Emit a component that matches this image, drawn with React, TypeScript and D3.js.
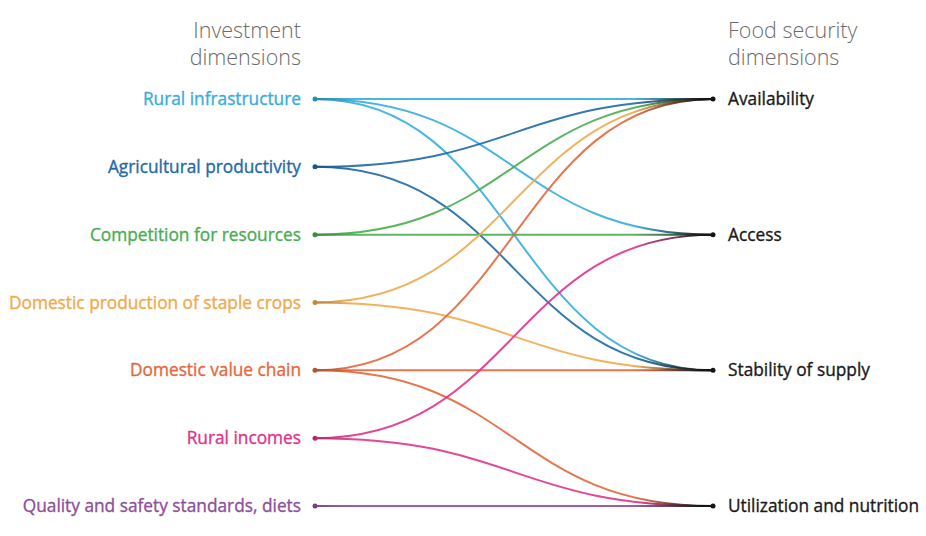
import React, { useRef, useEffect } from 'react';
import * as d3 from 'd3';

// investment dimensions (left side)
const sources = [
  'Rural infrastructure',
  'Agricultural productivity',
  'Competition for resources',
  'Domestic production of staple crops',
  'Domestic value chain',
  'Rural incomes',
  'Quality and safety standards, diets',
];
const sourceColors = ['#36aedd', '#1f6aa6', '#4aad52', '#f0aa4c', '#e4673c', '#e0338a', '#8e4f9b'];

// food security dimensions (right side)
const targets = ['Availability', 'Access', 'Stability of supply', 'Utilization and nutrition'];

// [source index, target index]
const links: [number, number][] = [
  [0, 0], [0, 1], [0, 2],
  [1, 0], [1, 2],
  [2, 0], [2, 1],
  [3, 0], [3, 2],
  [4, 0], [4, 2], [4, 3],
  [5, 1], [5, 3],
  [6, 3],
];

const width = 926;
const height = 536;

const App = () => {
  const svgRef = useRef<SVGSVGElement>(null);

  useEffect(() => {
    const svg = d3.select(svgRef.current);
    svg.selectAll('*').remove();

    const xLeft = 315;
    const xRight = 713;
    const yLeft = d3.scalePoint<number>().domain(d3.range(sources.length)).range([99, 506]);
    const yRight = d3.scalePoint<number>().domain(d3.range(targets.length)).range([99, 506]);

    const font = '"Open Sans", Lato, sans-serif';

    // headings
    const heads = [
      { x: 301, anchor: 'end', lines: ['Investment', 'dimensions'] },
      { x: 728, anchor: 'start', lines: ['Food security', 'dimensions'] },
    ];
    heads.forEach(h => {
      h.lines.forEach((l, i) => {
        svg.append('text')
          .attr('x', h.x)
          .attr('y', 38 + i * 27)
          .attr('text-anchor', h.anchor)
          .attr('font-family', font)
          .attr('font-size', 21.5)
          .attr('font-weight', 300)
          .attr('fill', '#6b6b6b')
          .text(l);
      });
    });

    // gradients: darker at the source, colour in the middle, near black at target
    const defs = svg.append('defs');
    links.forEach(([s], i) => {
      const c = sourceColors[s];
      const g = defs.append('linearGradient')
        .attr('id', `grad-${i}`)
        .attr('gradientUnits', 'userSpaceOnUse')
        .attr('x1', xLeft).attr('x2', xRight)
        .attr('y1', 0).attr('y2', 0);
      g.append('stop').attr('offset', 0).attr('stop-color', d3.rgb(c).darker(0.7).formatHex());
      g.append('stop').attr('offset', 0.1).attr('stop-color', c);
      g.append('stop').attr('offset', 0.8).attr('stop-color', c);
      g.append('stop').attr('offset', 0.97).attr('stop-color', '#151515');
    });

    const link = d3.linkHorizontal<any, [number, number]>()
      .source(d => [xLeft, yLeft(d[0])!])
      .target(d => [xRight, yRight(d[1])!]);

    svg.append('g')
      .attr('fill', 'none')
      .attr('stroke-width', 2)
      .attr('stroke-opacity', 0.9)
      .selectAll('path')
      .data(links)
      .join('path')
      .attr('d', d => link(d))
      .attr('stroke', (d, i) => `url(#grad-${i})`);

    // left nodes + labels
    const left = svg.append('g')
      .selectAll('g')
      .data(sources)
      .join('g')
      .attr('transform', (d, i) => `translate(0,${yLeft(i)})`);
    left.append('circle')
      .attr('cx', xLeft).attr('r', 2.5)
      .attr('fill', (d, i) => d3.rgb(sourceColors[i]).darker(0.6).formatHex());
    left.append('text')
      .attr('x', 301)
      .attr('dy', '0.35em')
      .attr('text-anchor', 'end')
      .attr('font-family', font)
      .attr('font-size', 17.3)
      .attr('fill', (d, i) => sourceColors[i])
      .attr('stroke', (d, i) => sourceColors[i])
      .attr('stroke-width', 0.35)
      .text(d => d);

    // right nodes + labels
    const right = svg.append('g')
      .selectAll('g')
      .data(targets)
      .join('g')
      .attr('transform', (d, i) => `translate(0,${yRight(i)})`);
    right.append('circle')
      .attr('cx', xRight).attr('r', 2.5)
      .attr('fill', '#151515');
    right.append('text')
      .attr('x', 728)
      .attr('dy', '0.35em')
      .attr('font-family', font)
      .attr('font-size', 17.3)
      .attr('fill', '#1a1a1a')
      .attr('stroke', '#1a1a1a')
      .attr('stroke-width', 0.35)
      .text(d => d);
  }, []);

  return (
    <svg
      ref={svgRef}
      width={width}
      height={height}
      style={{ position: 'absolute', left: 0, top: 0, background: '#fff' }}
    />
  );
};

export default App;
